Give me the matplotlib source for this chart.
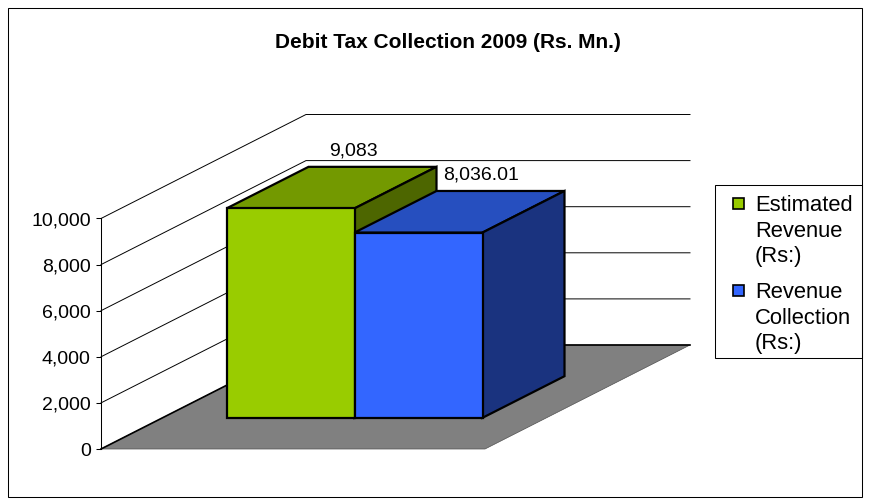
import matplotlib.pyplot as plt
from matplotlib.patches import Polygon, Rectangle
from matplotlib.ticker import FuncFormatter

plt.rcParams['font.family'] = ['Liberation Sans', 'DejaVu Sans']

# chart data
title = "Debit Tax Collection 2009 (Rs. Mn.)"
series = ["Estimated\nRevenue\n(Rs:)", "Revenue\nCollection\n(Rs:)"]
values = [9083, 8036.01]
value_labels = ["9,083", "8,036.01"]
yticks = [0, 2000, 4000, 6000, 8000, 10000]
front_colors = ["#99CC00", "#3366FF"]
top_colors = ["#739900", "#264FBF"]
side_colors = ["#4D6600", "#1A337F"]

W, H = 869, 504
fig = plt.figure(figsize=(W / 100, H / 100), dpi=100)


def fx(px):
    return px / W


def fy(py):
    return 1 - py / H


# axes = front plane of the floor, value axis on the left
ax = fig.add_axes([fx(101), fy(449), (485 - 101) / W, (449 - 218.5) / H])
ax.set_xlim(0, 1)
ax.set_ylim(0, 10000)
ax.patch.set_visible(False)

# oblique depth offset (full depth), in data units
DEPTH_X = 205 / 384
DEPTH_Y = 104 / 230.5 * 10000


def proj(x, v, d):
    return (x + d * DEPTH_X, v + d * DEPTH_Y)


# floor
floor = [proj(0, 0, 0), proj(1, 0, 0), proj(1, 0, 1), proj(0, 0, 1)]
ax.add_patch(Polygon(floor, closed=True, fc="#808080", ec="#505050", lw=0.5,
                     zorder=0.5, clip_on=False))

# gridlines on the side and back walls
for t in yticks:
    pts = [proj(0, t, 0), proj(0, t, 1), proj(1, t, 1)]
    ax.plot([p[0] for p in pts], [p[1] for p in pts], color="black",
            lw=1.2 if t == 0 else 0.7, zorder=1, clip_on=False)

# 3d bars
n = len(values)
width = (4 / 6) / n
d0, d1 = 0.3, 0.7
for i, v in enumerate(values):
    x0 = 1 / 6 + i * width
    x1 = x0 + width
    top = [proj(x0, v, d0), proj(x1, v, d0), proj(x1, v, d1), proj(x0, v, d1)]
    side = [proj(x1, 0, d0), proj(x1, 0, d1), proj(x1, v, d1), proj(x1, v, d0)]
    front = [proj(x0, 0, d0), proj(x1, 0, d0), proj(x1, v, d0), proj(x0, v, d0)]
    for face, col in [(top, top_colors[i]), (side, side_colors[i]),
                      (front, front_colors[i])]:
        ax.add_patch(Polygon(face, closed=True, fc=col, ec="black", lw=1.6,
                             joinstyle="miter", zorder=3 + i, clip_on=False))
    ax.annotate(value_labels[i], xy=proj((x0 + x1) / 2, v, d1),
                xytext=(-19, 16), textcoords="offset pixels",
                ha="center", va="center", fontsize=14, zorder=10,
                annotation_clip=False)

# value axis
ax.set_yticks(yticks)
ax.yaxis.set_major_formatter(FuncFormatter(lambda v, _: f"{v:,.0f}"))
ax.tick_params(axis="y", direction="out", length=3.3, width=0.75,
               labelsize=14, pad=4)
ax.set_xticks([])
for s in ["top", "right", "bottom"]:
    ax.spines[s].set_visible(False)
ax.spines["left"].set_linewidth(0.75)
ax.spines["left"].set_zorder(2)

# title
fig.text(fx(448), fy(42), title, ha="center", va="center", fontsize=15,
         fontweight="bold")

# legend
fig.add_artist(Rectangle((fx(715), fy(358)), (862 - 715) / W, (358 - 185) / H,
                         transform=fig.transFigure, fill=False, ec="black",
                         lw=0.75))
first_baselines = [211, 298]
step = 25.7
for i, label in enumerate(series):
    b = first_baselines[i]
    fig.add_artist(Rectangle((fx(733), fy(b - 2)), 10.7 / W, 11 / H,
                             transform=fig.transFigure, fc=front_colors[i],
                             ec="black", lw=1.2))
    for j, line in enumerate(label.split("\n")):
        fig.text(fx(755), fy(b + j * step), line, ha="left", va="baseline",
                 fontsize=15.8)

# chart area border
fig.add_artist(Rectangle((fx(8), fy(497)), (862 - 8) / W, (497 - 8) / H,
                         transform=fig.transFigure, fill=False, ec="black",
                         lw=0.75))

fig.savefig("out.png", dpi=100)
